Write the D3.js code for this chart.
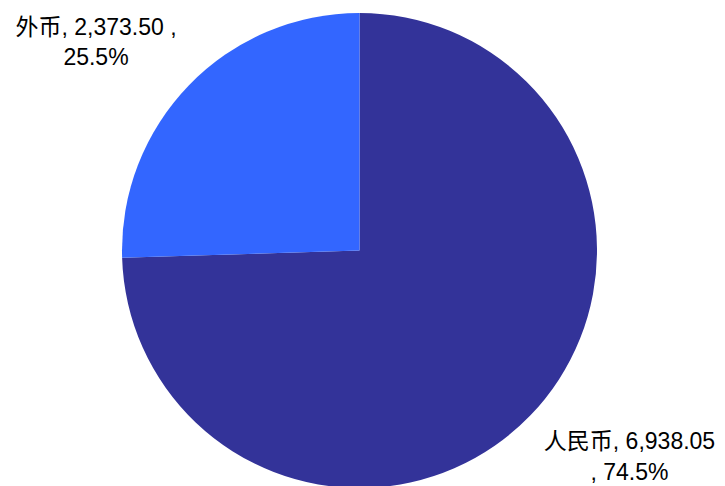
<!DOCTYPE html>
<html><head><meta charset="utf-8">
<script src="https://cdn.jsdelivr.net/npm/d3@7"></script>
<style>html,body{margin:0;padding:0;background:#fff;}svg{display:block;}</style>
</head><body>
<svg id="c" width="725" height="486"></svg>
<script>
const categories = ["人民币", "外币"];
const values = [6938.05, 2373.50];
const percentLabels = ["74.5%", "25.5%"];
const colors = ["#333399", "#3366FF"];

const svg = d3.select("#c");
const cx = 359.5, cy = 250.5, r = 237.5;
const pie = d3.pie().sort(null).value(d => d.v);
const data = categories.map((c, i) => ({c, v: values[i], p: percentLabels[i], col: colors[i]}));
const arcs = pie(data);
const arc = d3.arc().innerRadius(0).outerRadius(r);
const g = svg.append("g").attr("transform", `translate(${cx},${cy})`);
g.selectAll("path").data(arcs).enter().append("path")
  .attr("d", arc).attr("fill", d => d.data.col);

const fmt = d3.format(",.2f");
const font = "'Liberation Sans', Arial, 'Noto Sans CJK SC', sans-serif";
const lab = [
  {lines: [data[1].c + ", " + fmt(data[1].v) + " ,", data[1].p], x: 96, y: [35, 65]},
  {lines: [data[0].c + ", " + fmt(data[0].v), ", " + data[0].p], x: 629.5, y: [449, 480]}
];
lab.forEach(l => {
  l.lines.forEach((t, i) => {
    svg.append("text").attr("x", l.x).attr("y", l.y[i])
      .attr("text-anchor", "middle").attr("font-family", font)
      .attr("font-size", 23).attr("fill", "#000").text(t);
  });
});
</script>
</body></html>
